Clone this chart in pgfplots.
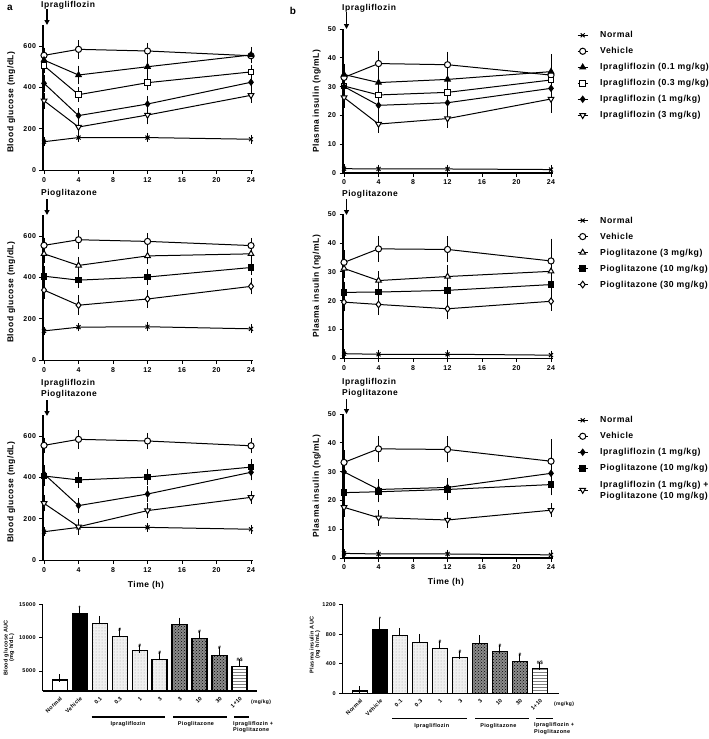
\documentclass[border=0pt]{standalone}
\usepackage{fontspec}
\setmainfont{Liberation Sans}[LetterSpace=6]
\usepackage{pgfplots}
\pgfplotsset{compat=1.18}
\usetikzlibrary{arrows.meta,patterns}
\newcommand\fs[1]{\fontsize{#1}{#1}\selectfont\bfseries}
\pgfplotsset{
  prism/.style={
    scale only axis, axis lines*=left, clip=false,
    axis line style={line width=1.2pt},
    every tick/.style={black, line width=1pt},
    tick align=outside, major tick length=3.5pt,
    scaled ticks=false,
    /pgf/number format/assume math mode=true,
    /pgf/number format/1000 sep={},
    tick label style={font=\fs{7}},
    label style={font=\fs{8.5}},
    every axis plot/.append style={black, line width=1pt},
  },
  eb/.style={error bars/.cd, y dir=both, y explicit,
    error bar style={line width=0.8pt, black},
    error mark options={line width=0.8pt, mark size=3.5pt, black}},
  gl/.style={prism, width=210pt, height=145pt, xmin=-0.12, xmax=24.23, ymin=0, ymax=700,
    xtick={0,4,...,24}, ytick={0,200,400,600},
    ylabel={Blood glucose (mg/dL)},
    ylabel style={at={(axis description cs:-0.152,0.47)}, anchor=center}},
  ins/.style={prism, width=210pt, height=144pt, xmin=-0.12, xmax=24.23, ymin=0, ymax=50,
    xtick={0,4,...,24}, ytick={0,10,...,50},
    ylabel={Plasma insulin (ng/mL)},
    ylabel style={at={(axis description cs:-0.125,0.5)}, anchor=center},
    legend style={at={(axis description cs:1.1,1.01)}, anchor=north west, draw=none, fill=none,
      font=\fs{8.7}, row sep=5pt, nodes={inner sep=1pt, text height=7pt, text depth=2pt},
      /tikz/every odd column/.append style={column sep=11pt}},
    legend cell align=left,
    legend image code/.code={\draw[mark repeat=2,mark phase=2,#1] plot coordinates {(0pt,0pt) (5pt,0pt) (10pt,0pt)};}},
  sNor/.style={mark=x, mark size=2.8pt, mark options={solid}},
  sVeh/.style={mark=*, mark size=3.1pt, mark options={solid, fill=white}},
  sI01/.style={mark=triangle*, mark size=3.2pt, mark options={solid, fill=black}},
  sI03/.style={mark=square*, mark size=2.8pt, mark options={solid, fill=white}},
  sI1/.style={mark=diamond*, mark size=3pt, mark options={solid, fill=black}},
  sI3/.style={mark=triangle*, mark size=3.3pt, mark options={solid, fill=white, rotate=180}},
  sP3/.style={mark=triangle*, mark size=3.3pt, mark options={solid, fill=white}},
  sP10/.style={mark=square*, mark size=2.8pt, mark options={solid, fill=black}},
  sP30/.style={mark=diamond*, mark size=3.3pt, mark options={solid, fill=white}},
  bars/.style={prism, clip=true, clip mode=individual, ybar, bar width=15pt, bar shift=0pt,
    xtick={0,...,9}, xticklabels={Normal,Vehicle,0.1,0.3,1,3,3,10,30,1+10},
    x tick label style={rotate=45, anchor=north east, font=\fs{5.5}, inner sep=1pt},
    y tick label style={font=\fs{5.5}},
    major x tick style={draw=none}},
  beb/.style={error bars/.cd, y dir=plus, y explicit,
    error bar style={line width=1pt, black},
    error mark options={line width=1pt, mark size=4pt, black}},
  bN/.style={fill=white, draw=black, line width=1.3pt},
  bV/.style={fill=black, draw=black, line width=1.3pt},
  bI/.style={fill=gray!12, draw=black, line width=1.3pt, postaction={pattern=dots, pattern color=gray!70}},
  bP/.style={fill=black!45, draw=black, line width=1.3pt, postaction={pattern=crosshatch dots, pattern color=black}},
  bC/.style={fill=white, draw=black, line width=1.3pt, postaction={pattern=horizontal lines, pattern color=gray}},
}
\begin{document}
\begin{tikzpicture}
\path[use as bounding box] (0pt,0pt) rectangle (709pt,-739pt);

% ---------- Row 1 glucose ----------
\begin{axis}[gl, at={(43pt,-170.3pt)}, anchor=south west, xticklabel={}]
\addplot[sNor, eb] coordinates {(0,138) +- (0,4) (4,158) +- (0,4) (12,158) +- (0,4) (24,150) +- (0,4)};
\addplot[sVeh, eb] coordinates {(0,555) +- (0,20) (4,584) +- (0,28) (12,576) +- (0,22) (24,553) +- (0,20)};
\addplot[sI01, eb] coordinates {(0,532) +- (0,20) (4,460) +- (0,28) (12,500) +- (0,22) (24,557) +- (0,22)};
\addplot[sI03, eb] coordinates {(0,505) +- (0,20) (4,365) +- (0,18) (12,423) +- (0,20) (24,475) +- (0,18)};
\addplot[sI1, eb] coordinates {(0,420) +- (0,25) (4,264) +- (0,18) (12,320) +- (0,22) (24,425) +- (0,22)};
\addplot[sI3, eb] coordinates {(0,336) +- (0,22) (4,209) +- (0,22) (12,267) +- (0,28) (24,362) +- (0,20)};
\end{axis}

% ---------- Row 1 insulin ----------
\begin{axis}[ins, at={(343pt,-173pt)}, anchor=south west, xticklabel={}]
\addplot[sNor, eb] coordinates {(0,1.5) +- (0,0.3) (4,1.4) +- (0,0.3) (12,1.4) +- (0,0.3) (24,1.2) +- (0,0.3)};
\addlegendentry{Normal}
\addplot[sVeh, eb] coordinates {(0,33.2) +- (0,3) (4,38.0) +- (0,3.3) (12,37.6) +- (0,3.3) (24,34.0) +- (0,6)};
\addlegendentry{Vehicle}
\addplot[sI01, eb] coordinates {(0,34.2) +- (0,2.5) (4,31.4) +- (0,2.5) (12,32.5) +- (0,2.5) (24,35.2) +- (0,3)};
\addlegendentry{Ipragliflozin (0.1 mg/kg)}
\addplot[sI03, eb] coordinates {(0,30.2) +- (0,2.5) (4,27.1) +- (0,2.5) (12,28.0) +- (0,2.5) (24,32.3) +- (0,2.5)};
\addlegendentry{Ipragliflozin (0.3 mg/kg)}
\addplot[sI1, eb] coordinates {(0,30.0) +- (0,2.5) (4,23.5) +- (0,2.5) (12,24.4) +- (0,2.5) (24,29.4) +- (0,2.5)};
\addlegendentry{Ipragliflozin (1 mg/kg)}
\addplot[sI3, eb] coordinates {(0,26.2) +- (0,2.5) (4,17.0) +- (0,1.8) (12,18.9) +- (0,2) (24,25.7) +- (0,3.5)};
\addlegendentry{Ipragliflozin (3 mg/kg)}
\end{axis}

% ---------- Row 2 glucose ----------
\begin{axis}[gl, at={(43pt,-360.3pt)}, anchor=south west, xticklabel={}]
\addplot[sNor, eb] coordinates {(0,142) +- (0,4) (4,160) +- (0,4) (12,162) +- (0,4) (24,152) +- (0,4)};
\addplot[sVeh, eb] coordinates {(0,555) +- (0,20) (4,582) +- (0,28) (12,574) +- (0,22) (24,554) +- (0,20)};
\addplot[sP3, eb] coordinates {(0,514) +- (0,25) (4,458) +- (0,25) (12,504) +- (0,22) (24,514) +- (0,18)};
\addplot[sP10, eb] coordinates {(0,406) +- (0,30) (4,387) +- (0,22) (12,402) +- (0,22) (24,448) +- (0,18)};
\addplot[sP30, eb] coordinates {(0,339) +- (0,25) (4,266) +- (0,30) (12,296) +- (0,25) (24,357) +- (0,22)};
\end{axis}

% ---------- Row 2 insulin ----------
\begin{axis}[ins, at={(343pt,-358.3pt)}, anchor=south west, xticklabel={}]
\addplot[sNor, eb] coordinates {(0,1.6) +- (0,0.3) (4,1.4) +- (0,0.3) (12,1.4) +- (0,0.3) (24,1.1) +- (0,0.3)};
\addlegendentry{Normal}
\addplot[sVeh, eb] coordinates {(0,33.3) +- (0,3) (4,38.0) +- (0,3.3) (12,37.8) +- (0,3.3) (24,33.8) +- (0,6.5)};
\addlegendentry{Vehicle}
\addplot[sP3, eb] coordinates {(0,31.2) +- (0,2) (4,27.0) +- (0,2) (12,28.4) +- (0,2.8) (24,30.2) +- (0,2.5)};
\addlegendentry{Pioglitazone (3 mg/kg)}
\addplot[sP10, eb] coordinates {(0,22.9) +- (0,2.5) (4,23.0) +- (0,2) (12,23.6) +- (0,2.2) (24,25.6) +- (0,2.5)};
\addlegendentry{Pioglitazone (10 mg/kg)}
\addplot[sP30, eb] coordinates {(0,19.5) +- (0,2) (4,18.7) +- (0,2.5) (12,17.2) +- (0,2.5) (24,19.8) +- (0,2)};
\addlegendentry{Pioglitazone (30 mg/kg)}
\end{axis}

% ---------- Row 3 glucose ----------
\begin{axis}[gl, at={(43pt,-560.3pt)}, anchor=south west, xlabel={Time (h)},
  xlabel style={at={(axis description cs:0.49,-0.17)}, anchor=center}]
\addplot[sNor, eb] coordinates {(0,138) +- (0,4) (4,159) +- (0,4) (12,159) +- (0,4) (24,150) +- (0,4)};
\addplot[sVeh, eb] coordinates {(0,555) +- (0,20) (4,584) +- (0,28) (12,576) +- (0,22) (24,553) +- (0,20)};
\addplot[sI1, eb] coordinates {(0,417) +- (0,25) (4,264) +- (0,18) (12,320) +- (0,22) (24,425) +- (0,22)};
\addplot[sP10, eb] coordinates {(0,407) +- (0,30) (4,388) +- (0,22) (12,402) +- (0,22) (24,450) +- (0,20)};
\addplot[sI3, eb] coordinates {(0,275) +- (0,22) (4,162) +- (0,22) (12,240) +- (0,20) (24,304) +- (0,15)};
\end{axis}

% ---------- Row 3 insulin ----------
\begin{axis}[ins, at={(343pt,-558pt)}, anchor=south west, xlabel={Time (h)},
  xlabel style={at={(axis description cs:0.49,-0.17)}, anchor=center}]
\addplot[sNor, eb] coordinates {(0,1.6) +- (0,0.3) (4,1.4) +- (0,0.3) (12,1.4) +- (0,0.3) (24,1.1) +- (0,0.3)};
\addlegendentry{Normal}
\addplot[sVeh, eb] coordinates {(0,33.2) +- (0,3) (4,37.9) +- (0,3.3) (12,37.7) +- (0,3.3) (24,33.6) +- (0,6.5)};
\addlegendentry{Vehicle}
\addplot[sI1, eb] coordinates {(0,29.9) +- (0,2.5) (4,23.8) +- (0,2.5) (12,24.5) +- (0,2) (24,29.4) +- (0,2.5)};
\addlegendentry{Ipragliflozin (1 mg/kg)}
\addplot[sP10, eb] coordinates {(0,22.7) +- (0,2.5) (4,23.0) +- (0,2.5) (12,23.8) +- (0,2.5) (24,25.5) +- (0,2.5)};
\addlegendentry{Pioglitazone (10 mg/kg)}
\addplot[sI3, eb] coordinates {(0,17.6) +- (0,2) (4,14.0) +- (0,1.5) (12,13.2) +- (0,1.5) (24,16.6) +- (0,1.2)};
\addlegendentry[text height=18.5pt, text depth=2pt, align=left]{Ipragliflozin (1 mg/kg) +\\[2.5pt]Pioglitazone (10 mg/kg)}
\end{axis}

% ---------- Bar chart glucose AUC ----------
\begin{axis}[bars, at={(42.7pt,-691pt)}, anchor=south west, width=214.3pt, height=86.3pt,
  xmin=-0.85, xmax=9.87, ymin=2000, ymax=15000, ytick={5000,10000,15000}, yticklabels={5000,10000,15000}]
\addplot[bN, beb] coordinates {(0,3660) +- (0,250)};
\addplot[bV, beb] coordinates {(1,13610) +- (0,490)};
\addplot[bI, beb] coordinates {(2,12160) +- (0,540) (3,10220) +- (0,600) (4,8090) +- (0,300) (5,6750) +- (0,590)};
\addplot[bP, beb] coordinates {(6,11970) +- (0,490) (7,9880) +- (0,600) (8,7390) +- (0,700)};
\addplot[bC, beb] coordinates {(9,5650) +- (0,600)};
\node[font=\fs{5}, above, inner sep=1pt] at (axis cs:1,14100) {*};
\node[font=\fs{5}, above, inner sep=1pt] at (axis cs:3,10820) {\#};
\node[font=\fs{5}, above, inner sep=1pt] at (axis cs:4,8390) {\#};
\node[font=\fs{5}, above, inner sep=1pt] at (axis cs:5,7340) {\#};
\node[font=\fs{5}, above, inner sep=1pt] at (axis cs:7,10480) {\#};
\node[font=\fs{5}, above, inner sep=1pt] at (axis cs:8,8090) {\#};
\node[font=\fs{5}, above, inner sep=1pt] at (axis cs:9,6250) {\#\$};
\end{axis}

% ---------- Bar chart insulin AUC ----------
\begin{axis}[bars, at={(342.7pt,-693.3pt)}, anchor=south west, width=216.6pt, height=88.6pt,
  xmin=-0.865, xmax=9.97, ymin=0, ymax=1200, ytick={0,400,800,1200}, yticklabels={0,400,800,1200}]
\addplot[bN, beb] coordinates {(0,31) +- (0,10)};
\addplot[bV, beb] coordinates {(1,866) +- (0,98)};
\addplot[bI, beb] coordinates {(2,785) +- (0,48) (3,690) +- (0,62) (4,607) +- (0,49) (5,481) +- (0,40)};
\addplot[bP, beb] coordinates {(6,678) +- (0,54) (7,562) +- (0,40) (8,427) +- (0,54)};
\addplot[bC, beb] coordinates {(9,337) +- (0,36)};
\node[font=\fs{5}, above, inner sep=1pt] at (axis cs:1,964) {*};
\node[font=\fs{5}, above, inner sep=1pt] at (axis cs:4,656) {\#};
\node[font=\fs{5}, above, inner sep=1pt] at (axis cs:5,521) {\#};
\node[font=\fs{5}, above, inner sep=1pt] at (axis cs:7,602) {\#};
\node[font=\fs{5}, above, inner sep=1pt] at (axis cs:8,481) {\#};
\node[font=\fs{5}, above, inner sep=1pt] at (axis cs:9,373) {\#\$};
\end{axis}

% ---------- annotations ----------
\begin{scope}[x=1pt,y=-1pt]
\node[font=\fs{10}, inner sep=0pt] at (10,8) {a};
\node[font=\fs{10}, inner sep=0pt] at (293,11) {b};
\tikzset{arr/.style={line width=1.4pt, -{Triangle[length=5pt,width=5pt]}}}
% row 1
\node[font=\fs{8.5}, anchor=west, inner sep=0pt] at (41,5) {Ipragliflozin};
\draw[arr] (47,9) -- (47,25);
\node[font=\fs{8.5}, anchor=west, inner sep=0pt] at (342,8) {Ipragliflozin};
\draw[arr] (346.5,12) -- (346.5,29);
% row 2
\node[font=\fs{8.5}, anchor=west, inner sep=0pt] at (41,193.5) {Pioglitazone};
\draw[arr] (47,199) -- (47,215);
\node[font=\fs{8.5}, anchor=west, inner sep=0pt] at (342,194.5) {Pioglitazone};
\draw[arr] (346.5,199) -- (346.5,215);
% row 3
\node[font=\fs{8.5}, anchor=west, inner sep=0pt] at (41,383) {Ipragliflozin};
\node[font=\fs{8.5}, anchor=west, inner sep=0pt] at (41,394) {Pioglitazone};
\draw[arr] (47,400) -- (47,416);
\node[font=\fs{8.5}, anchor=west, inner sep=0pt] at (342,382) {Ipragliflozin};
\node[font=\fs{8.5}, anchor=west, inner sep=0pt] at (342,393) {Pioglitazone};
\draw[arr] (346.5,399) -- (346.5,414);
% bar chart y labels
\node[font=\fs{5.5}, rotate=90, align=center, inner sep=0pt] at (9,648) {Blood glucose AUC\\(mg$\cdot$h/dL)};
\node[font=\fs{5.5}, rotate=90, align=center, inner sep=0pt] at (315,645) {Plasma insulin AUC\\(ng$\cdot$h/mL)};
% group annotations left
\node[font=\fs{5}, inner sep=0pt] at (261,702.7) {(mg/kg)};
\draw[line width=1.2pt] (91.7,717) -- (165,717);
\draw[line width=1.2pt] (173,717) -- (226.7,717);
\draw[line width=1.2pt] (234,717) -- (249.3,717);
\node[font=\fs{5.5}, inner sep=0pt] at (128,724.5) {Ipragliflozin};
\node[font=\fs{5.5}, inner sep=0pt] at (196,724.5) {Pioglitazone};
\node[font=\fs{5.5}, inner sep=0pt, anchor=north west, align=left] at (233,721) {Ipragliflozin +\\[1pt]Pioglitazone};
% group annotations right
\node[font=\fs{5}, inner sep=0pt] at (564,704) {(mg/kg)};
\draw[line width=1.2pt] (392.3,718.7) -- (467.3,718.7);
\draw[line width=1.2pt] (475.3,718.7) -- (529.3,718.7);
\draw[line width=1.2pt] (536,718.7) -- (552.7,718.7);
\node[font=\fs{5.5}, inner sep=0pt] at (431.7,725.7) {Ipragliflozin};
\node[font=\fs{5.5}, inner sep=0pt] at (498.3,725.7) {Pioglitazone};
\node[font=\fs{5.5}, inner sep=0pt, anchor=north west, align=left] at (534,722.5) {Ipragliflozin +\\[1pt]Pioglitazone};
\end{scope}
\end{tikzpicture}
\end{document}
